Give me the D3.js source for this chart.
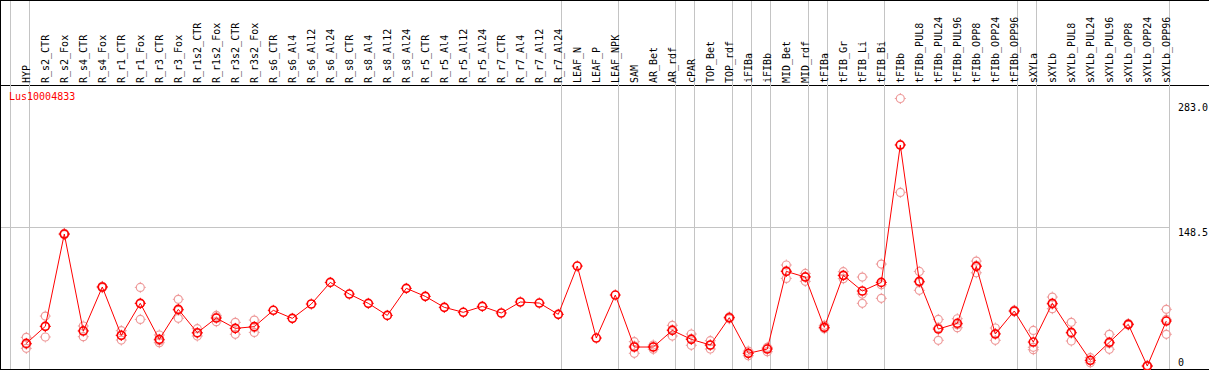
<!DOCTYPE html>
<html>
<head>
<meta charset="utf-8">
<script src="https://cdn.jsdelivr.net/npm/d3@7"></script>
<style>
  html, body { margin: 0; padding: 0; background: #fff; }
  svg { display: block; }
  text { font-family: "DejaVu Sans Mono", monospace; font-size: 10px; }
</style>
</head>
<body>
<svg id="chart" width="1209" height="370"></svg>
<script>
/* expression profile — one gene across tissues (mean + replicates) */
var GENE = 'Lus10004833';
var samples = ['HYP', 'R_s2_CTR', 'R_s2_Fox', 'R_s4_CTR', 'R_s4_Fox', 'R_r1_CTR', 'R_r1_Fox', 'R_r3_CTR', 'R_r3_Fox',
  'R_r1s2_CTR', 'R_r1s2_Fox', 'R_r3s2_CTR', 'R_r3s2_Fox', 'R_s6_CTR', 'R_s6_Al4', 'R_s6_Al12', 'R_s6_Al24',
  'R_s8_CTR', 'R_s8_Al4', 'R_s8_Al12', 'R_s8_Al24', 'R_r5_CTR', 'R_r5_Al4', 'R_r5_Al12', 'R_r5_Al24',
  'R_r7_CTR', 'R_r7_Al4', 'R_r7_Al12', 'R_r7_Al24', 'LEAF_N', 'LEAF_P', 'LEAF_NPK', 'SAM', 'AR_Bet', 'AR_rdf',
  'cPAR', 'TOP_Bet', 'TOP_rdf', 'iFIBa', 'iFIBb', 'MID_Bet', 'MID_rdf', 'tFIBa', 'tFIB_Gr', 'tFIB_Li', 'tFIB_Bi',
  'tFIBb', 'tFIBb_PUL8', 'tFIBb_PUL24', 'tFIBb_PUL96', 'tFIBb_OPP8', 'tFIBb_OPP24', 'tFIBb_OPP96',
  'sXYLa', 'sXYLb', 'sXYLb_PUL8', 'sXYLb_PUL24', 'sXYLb_PUL96', 'sXYLb_OPP8', 'sXYLb_OPP24', 'sXYLb_OPP96'];
// first sample of each group (a grey separator is drawn before it)
var groupStarts = ['HYP', 'R_s2_CTR', 'LEAF_N', 'SAM', 'cPAR', 'TOP_Bet', 'iFIBa', 'iFIBb', 'MID_Bet', 'tFIBa',
  'tFIB_Gr', 'tFIBb', 'sXYLa', 'sXYLb'];
var meanVals = [26.8, 44.6, 141.2, 39.7, 85.8, 35.2, 68.7, 31.0, 62.4, 38.0, 53.3, 42.5, 44.3,
  61.4, 53.0, 68.0, 90.6, 78.4, 68.7, 56.1, 84.4, 76.0, 64.5, 59.3, 65.5, 58.6, 70.1, 69.0, 57.2,
  107.7, 32.4, 77.4, 23.0, 23.0, 40.4, 31.0, 25.1, 53.7, 16.4, 20.9, 102.1, 96.2, 43.6, 98.0, 81.6, 90.6,
  234.3, 91.7, 41.8, 47.8, 107.4, 36.6, 60.7, 28.2, 68.7, 38.3, 9.1, 27.9, 46.7, 3.1, 50.2];
// replicates (null = none shown)
var rep1 = [33.1, 55.4, 141.2, 45.0, 85.0, 40.1, 85.4, 35.6, 72.9, 42.2, 56.1, 48.8, 51.2,
  null, null, null, null, null, null, null, null, null, null, null, null, null, null, null, null,
  null, null, null, 28.6, 25.1, 45.7, 36.6, 29.6, 52.5, 18.8, 22.7, 108.8, 100.0, 45.7, 101.8, 96.2, 109.8,
  283.0, 102.1, 51.9, 52.6, 112.9, 42.9, 60.0, 40.4, 75.3, 48.8, 11.8, 36.3, 46.0, 2.5, 62.4];
var rep2 = [21.6, 33.5, 140.5, 33.8, 86.5, 30.3, 51.9, 27.5, 53.0, 34.5, 49.5, 36.3, 38.3,
  null, null, null, null, null, null, null, null, null, null, null, null, null, null, null, null,
  null, null, null, 16.4, 20.6, 34.5, 24.8, 20.9, 54.5, 13.9, 18.1, 94.8, 91.7, 42.2, 94.5, 68.7, 73.9,
  184.8, 82.3, 30.0, 43.2, 100.7, 30.0, 61.5, 22.7, 63.1, 29.3, 6.6, 20.6, 47.5, 3.8, 36.3];
var rep3 = [25.8, 44.7, 142.0, 40.4, 86.0, 35.2, 68.7, 29.6, 61.4, 37.3, 54.4, 42.5, 43.2,
  null, null, null, null, null, null, null, null, null, null, null, null, null, null, null, null,
  null, null, null, 24.1, 23.4, 41.1, 31.7, 24.8, 54.0, 16.4, 22.0, 102.8, 96.9, 43.0, 97.7, 78.4, 88.2,
  235.0, 90.6, 43.2, 46.4, 108.4, 37.3, 60.7, 20.2, 67.7, 37.3, 8.7, 26.8, 46.7, 3.1, 51.9];
var yTicks = [0, 148.5, 283];
var yTickLabels = ['0', '148.5', '283.0'];

(function () {
  var W = 1209, H = 370, HEAD = 85, BOT = 369;
  var svg = d3.select('#chart');
  var x = d3.scaleBand().domain(samples).range([11, 1170]).paddingInner(0).paddingOuter(0);
  var y = d3.scaleLinear().domain([0, 283 * 1.05]).range([BOT, HEAD]);
  function px(d) { return x(d) + 15.3; }

  // frame
  svg.append('line').attr('x1', 0).attr('x2', W).attr('y1', 0.5).attr('y2', 0.5).attr('stroke', '#000');
  svg.append('line').attr('x1', 0).attr('x2', W).attr('y1', HEAD + 0.5).attr('y2', HEAD + 0.5).attr('stroke', '#000');
  svg.append('line').attr('x1', 0).attr('x2', W).attr('y1', BOT + 0.5).attr('y2', BOT + 0.5).attr('stroke', '#000');
  svg.append('line').attr('x1', 0.5).attr('x2', 0.5).attr('y1', 0).attr('y2', H).attr('stroke', '#000');

  // grid: middle value + group separators
  svg.append('line').attr('x1', 1).attr('x2', 1170).attr('y1', Math.round(y(148.5)) + 0.5).attr('y2', Math.round(y(148.5)) + 0.5)
    .attr('stroke', '#c4c4c4');
  var seps = groupStarts.map(function (s) { return x(s); }).concat([x.range()[1]]);
  svg.append('g').selectAll('line').data(seps).enter().append('line')
    .attr('x1', function (d) { return Math.round(d) - 0.5; }).attr('x2', function (d) { return Math.round(d) - 0.5; })
    .attr('y1', 1).attr('y2', BOT).attr('stroke', '#c4c4c4');

  // rotated sample names in the header
  svg.append('g').selectAll('text').data(samples).enter().append('text')
    .attr('transform', function (d) { return 'translate(' + (x(d) + 18.5) + ',' + (HEAD - 2) + ') rotate(-90)'; })
    .attr('fill', '#000').text(function (d) { return d; });

  // y labels on the right
  var tickDy = [-3, 9, 12.6];
  svg.append('g').selectAll('text').data(yTicks).enter().append('text')
    .attr('x', 1178).attr('y', function (d, i) { return y(d) + tickDy[i]; })
    .attr('fill', '#000').text(function (d, i) { return yTickLabels[i]; });

  svg.append('text').attr('x', 9).attr('y', 100).attr('fill', '#ff0000').text(GENE);

  function marker(g, cx, cy, col, sw) {
    g.append('circle').attr('cx', cx).attr('cy', cy).attr('r', 4).attr('fill', 'none').attr('stroke', col).attr('stroke-width', sw);
    [[0, -5.5, 0, -4.2], [0, 4.2, 0, 5.5], [-5.5, 0, -4.2, 0], [4.2, 0, 5.5, 0]].forEach(function (t) {
      g.append('line').attr('x1', cx + t[0]).attr('y1', cy + t[1]).attr('x2', cx + t[2]).attr('y2', cy + t[3])
        .attr('stroke', col).attr('stroke-width', 1);
    });
  }

  // replicates (pale)
  var gR = svg.append('g');
  [rep1, rep2, rep3].forEach(function (rep) {
    rep.forEach(function (v, i) { if (v != null) marker(gR, px(samples[i]), y(v), '#ee9a9a', 1.2); });
  });

  // mean line + markers
  var line = d3.line().x(function (d, i) { return px(samples[i]); }).y(function (d) { return y(d); });
  svg.append('path').datum(meanVals).attr('d', line).attr('fill', 'none').attr('stroke', '#ff0000').attr('stroke-width', 1);
  var gM = svg.append('g');
  meanVals.forEach(function (v, i) { marker(gM, px(samples[i]), y(v), '#ff0000', 1.6); });
})();
</script>
</body>
</html>
